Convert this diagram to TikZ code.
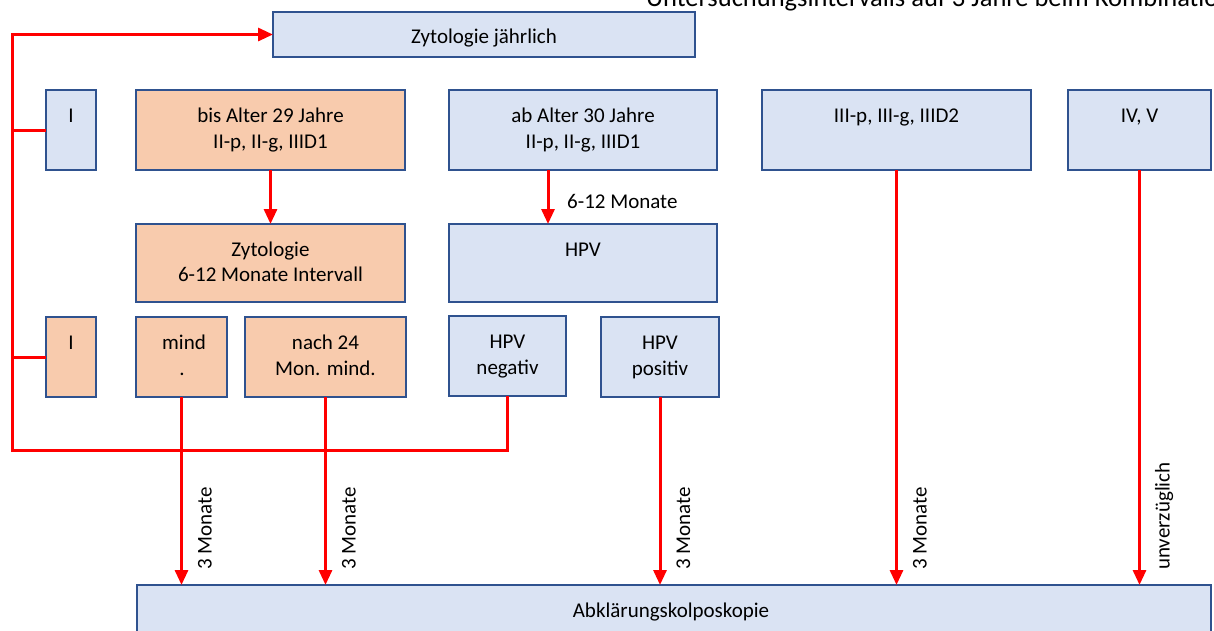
\documentclass[tikz,border=0pt]{standalone}
\usepackage{fontspec}
\setmainfont{Carlito}
\usetikzlibrary{arrows.meta,fit}
\definecolor{bfill}{HTML}{DAE3F3}
\definecolor{ofill}{HTML}{F8CBAD}
\definecolor{bdraw}{HTML}{2F528F}
\definecolor{rline}{HTML}{FF0000}
\begin{document}
\begin{tikzpicture}[x=1pt,y=-1pt,
  bx/.style={draw=bdraw, line width=1.6pt, inner sep=0pt, outer sep=0pt},
  bluebox/.style={bx, fill=bfill},
  orbox/.style={bx, fill=ofill},
  txt/.style={font=\fontsize{21}{26}\selectfont, inner sep=0pt, anchor=base},
  rlab/.style={font=\fontsize{21}{26}\selectfont, inner sep=0pt, rotate=90, anchor=base west},
  redline/.style={draw=rline, line width=3pt},
  arr/.style={redline, -{Triangle[length=15pt,width=13pt]}}
]
\clip (0,0) rectangle (1214,630);
\useasboundingbox (0,0) rectangle (1214,630);

% partially visible heading text at the top edge
\node[inner sep=0pt, anchor=base west, font=\fontsize{26.5}{30}\selectfont] (head) at (646,6.5) {Untersuchungsintervalls auf 3 Jahre beim Kombinationstest};

% boxes
\node[bluebox, fit={(273,12) (695,57)}] (zj) {};
\node[bluebox, fit={(46,90) (96,170)}] (i1) {};
\node[orbox, fit={(136,90) (405,170)}] (bis) {};
\node[bluebox, fit={(449,90) (717,170)}] (ab) {};
\node[bluebox, fit={(762,90) (1031,170)}] (iii) {};
\node[bluebox, fit={(1068,90) (1211,170)}] (iv) {};
\node[orbox, fit={(136,224) (405,302)}] (zyt) {};
\node[bluebox, fit={(449,224) (717,302)}] (hpv) {};
\node[orbox, fit={(46,317) (96,397)}] (i2) {};
\node[orbox, fit={(136,317) (227,397)}] (mind) {};
\node[orbox, fit={(245,317) (406,397)}] (nach) {};
\node[bluebox, fit={(449,316) (566,396)}] (neg) {};
\node[bluebox, fit={(601,317) (719,397)}] (pos) {};
\node[bluebox, fit={(137,585) (1211,650)}] (abk) {};

% texts
\node[txt] (tzj) at (484,43) {Zytologie jährlich};
\node[txt] (ti1) at (71,122) {I};
\node[txt] (tbis1) at (270.5,122) {bis Alter 29 Jahre};
\node[txt] (tbis2) at (270.5,148) {II-p, II-g, IIID1};
\node[txt] (tab1) at (583,122) {ab Alter 30 Jahre};
\node[txt] (tab2) at (583,148) {II-p, II-g, IIID1};
\node[txt] (tiii) at (896.5,122) {III-p, III-g, IIID2};
\node[txt] (tiv) at (1139.5,122) {IV, V};
\node[txt] (tzyt1) at (270.5,256) {Zytologie};
\node[txt] (tzyt2) at (270.5,281) {6-12 Monate Intervall};
\node[txt] (thpv) at (583,256) {HPV};
\node[txt] (ti2) at (71,349) {I};
\node[txt] (tmind1) at (184,349) {mind};
\node[txt] (tmind2) at (182,375) {.};
\node[txt] (tnach1) at (325.5,349) {nach 24};
\node[txt] (tnach2) at (325.5,375) {Mon. mind.};
\node[txt] (tneg1) at (507.5,348) {HPV};
\node[txt] (tneg2) at (507.5,374) {negativ};
\node[txt] (tpos1) at (660,349) {HPV};
\node[txt] (tpos2) at (660,375) {positiv};
\node[txt] (tabk) at (671,617) {Abklärungskolposkopie};

% helper coordinates
\coordinate (c1) at (12,450);
\coordinate (ax) at (548,0);

% feedback loop
\draw[arr] (neg.south) |- (c1) |- (zj.west);
\draw[redline] (i1.west) -- (i1.west -| c1);
\draw[redline] (i2.west) -- (i2.west -| c1);

% internal arrows
\draw[arr] (bis.south) -- (zyt.north);
\draw[arr] (ab.south -| ax) -- (hpv.north -| ax);
\node[txt, anchor=base west] (l612) at (567,208) {6-12 Monate};

% arrows to Abklaerungskolposkopie
\coordinate (e1) at (mind.south |- abk.north);
\coordinate (e2) at (nach.south |- abk.north);
\coordinate (e3) at (pos.south |- abk.north);
\coordinate (e4) at (iii.south |- abk.north);
\coordinate (e5) at (iv.south |- abk.north);
\draw[arr] (mind.south) -- (e1);
\draw[arr] (nach.south) -- (e2);
\draw[arr] (pos.south) -- (e3);
\draw[arr] (iii.south) -- (e4);
\draw[arr] (iv.south) -- (e5);
\node[rlab] (l1) at ([xshift=30pt,yshift=15pt]e1) {3 Monate};
\node[rlab] (l2) at ([xshift=30pt,yshift=15pt]e2) {3 Monate};
\node[rlab] (l3) at ([xshift=30pt,yshift=15pt]e3) {3 Monate};
\node[rlab] (l4) at ([xshift=30pt,yshift=15pt]e4) {3 Monate};
\node[rlab] (l5) at ([xshift=30pt,yshift=15pt]e5) {unverzüglich};
\end{tikzpicture}
\end{document}
